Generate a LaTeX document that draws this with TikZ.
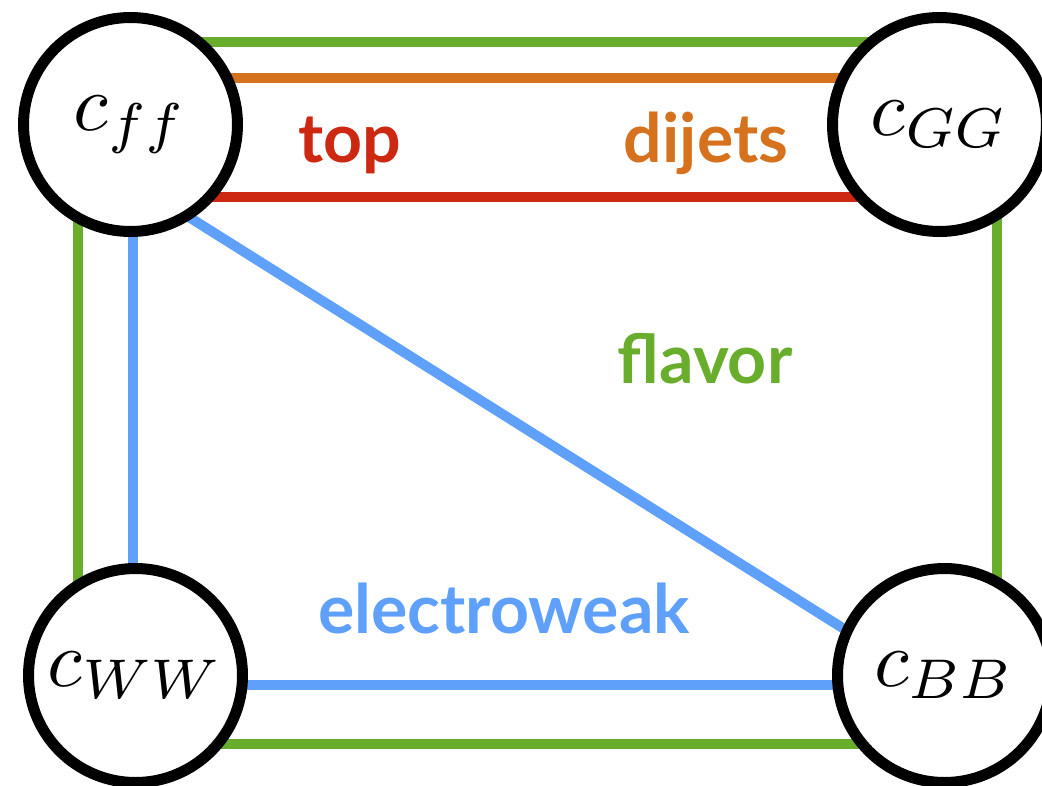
\documentclass[tikz,border=0pt]{standalone}
\usepackage{graphicx}
\usepackage{fontspec}
\newfontfamily\labfont{Lato}
\usetikzlibrary{calc,backgrounds}
\definecolor{fgreen}{RGB}{104,173,44}
\definecolor{forange}{RGB}{214,114,30}
\definecolor{fred}{RGB}{205,40,18}
\definecolor{fblue}{RGB}{94,160,250}
\newcommand{\coupmath}[1]{\scalebox{8}{$#1$}}
\begin{document}
\begin{tikzpicture}[x=1pt,y=-1pt,
  coup/.style={circle,draw=black,line width=11pt,fill=white,minimum size=214pt,inner sep=0pt},
  lnk/.style={line width=10pt},
  lab/.style={font=\labfont\bfseries\fontsize{68}{68}\selectfont,anchor=base}]
\useasboundingbox (0,0) rectangle (1042,785);
\node[coup] (cff) at (130.5,124.5) {\coupmath{c_{ff}}};
\node[coup] (cGG) at (939.5,124.5) {\coupmath{c_{GG}}};
\node[coup] (cWW) at (135.5,675.5) {\coupmath{c_{WW}}};
\node[coup] (cBB) at (944.5,675.5) {\coupmath{c_{BB}}};
\begin{scope}[on background layer]
\draw[lnk,fgreen] ($(cff)+(0,-82.5)$) -- ($(cGG)+(0,-82.5)$);
\draw[lnk,forange] ($(cff)+(0,-46.5)$) -- ($(cGG)+(0,-46.5)$);
\draw[lnk,fred] ($(cff)+(0,72.5)$) -- ($(cGG)+(0,72.5)$);
\draw[lnk,fgreen] ($(cff)+(-52.5,0)$) -- ($(cWW)+(-57.5,0)$);
\draw[lnk,fblue] ($(cff)+(2.5,0)$) -- ($(cWW)+(-2.5,0)$);
\draw[lnk,fgreen] ($(cGG)+(57.5,0)$) -- ($(cBB)+(52.5,0)$);
\draw[lnk,fblue] ($(cWW)+(0,9.5)$) -- ($(cBB)+(0,9.5)$);
\draw[lnk,fgreen] ($(cWW)+(0,68)$) -- ($(cBB)+(0,68)$);
\draw[lnk,fblue,shorten <=-15pt,shorten >=-15pt] (cff.-57) -- (cBB.155);
\end{scope}
\node[lab,text=fred] (ltop) at (350,162) {top};
\node[lab,text=forange] (ldij) at (706,162) {dijets};
\node[lab,text=fgreen] (lfla) at (705,383) {flavor};
\node[lab,text=fblue] (lew) at (504,633) {electroweak};
\end{tikzpicture}
\end{document}
